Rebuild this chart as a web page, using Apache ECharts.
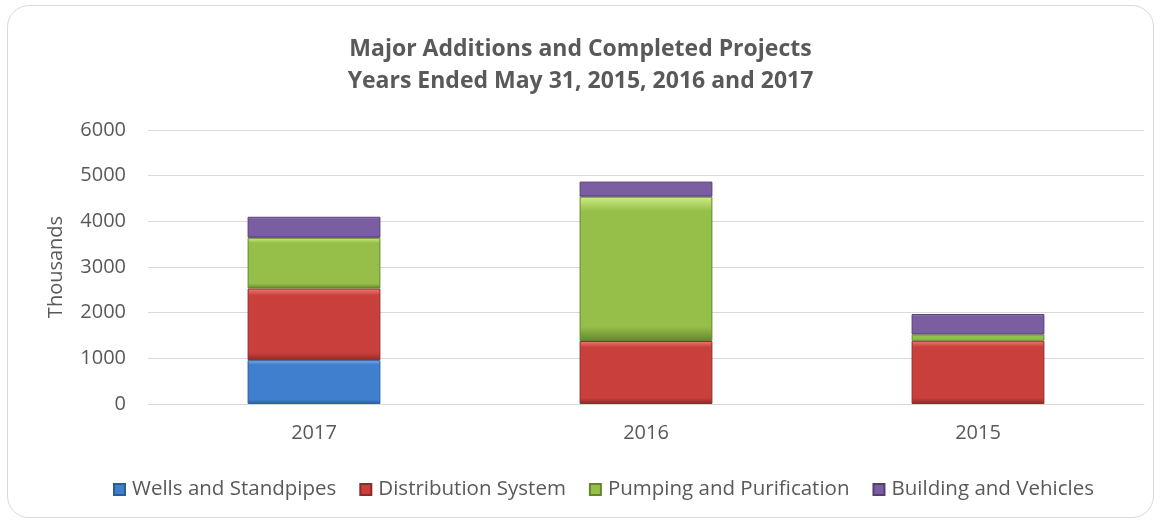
<!DOCTYPE html>
<html>
<head>
<meta charset="utf-8">
<script src="https://cdn.jsdelivr.net/npm/echarts@6/dist/echarts.min.js"></script>
<style>
  html, body { margin: 0; padding: 0; background: #fff; }
  #frame { position: absolute; left: 7px; top: 5px; width: 1145px; height: 511px;
           border: 1px solid #d9d9d9; border-radius: 22px; }
  #chart { width: 1161px; height: 522px; position: absolute; left: 0; top: 0; }
</style>
</head>
<body>
<div id="frame"></div>
<div id="chart"></div>
<script>
var years = ['2017', '2016', '2015']
var wells = [960, 0, 0]
var distribution = [1570, 1380, 1385]
var pumping = [1110, 3160, 140]
var building = [460, 330, 445]
var yTicks = [0, 1000, 2000, 3000, 4000, 5000, 6000]

// light top edge, flat face, dark bottom edge
function bevel(light, base, dark) {
    return {
        type: 'linear', x: 0, y: 0, x2: 0, y2: 1,
        colorStops: [
            { offset: 0, color: light },
            { offset: 0.1, color: base },
            { offset: 0.9, color: base },
            { offset: 1, color: dark }
        ]
    }
}

var myChart = echarts.init(document.getElementById('chart'));

function serie(name, data, light, base, dark) {
    return {
        name: name,
        type: 'bar',
        stack: 'total',
        barWidth: '40%',
        // empty segments are not drawn
        data: data.map(function (v) { return v === 0 ? '-' : v }),
        itemStyle: {
            color: bevel(light, base, dark),
            borderColor: dark,
            borderWidth: 1
        },
        emphasis: { disabled: true }
    }
}

var font = 'Open Sans'
var grey = '#595959'

var option = {
    animation: false,
    color: ['#3f7fce', '#c93f3c', '#96bf49', '#7b5ea2'],
    title: {
        text: 'Major Additions and Completed Projects\nYears Ended May 31, 2015, 2016 and 2017',
        left: 'center',
        top: 28,
        textStyle: {
            fontFamily: font,
            fontSize: 23,
            fontWeight: 'bold',
            color: grey,
            lineHeight: 32
        }
    },
    legend: {
        top: 474,
        left: 108,
        itemWidth: 11,
        itemHeight: 11,
        itemGap: 23,
        icon: 'rect',
        textStyle: { fontFamily: font, fontSize: 20.5, color: grey, padding: [0, 0, 0, 2] },
        data: ['Wells and Standpipes', 'Distribution System', 'Pumping and Purification', 'Building and Vehicles']
    },
    grid: { left: 148, right: 17, top: 130, bottom: 118 },
    xAxis: {
        type: 'category',
        data: years,
        axisTick: { show: false },
        axisLine: { lineStyle: { color: '#d9d9d9' } },
        axisLabel: { fontFamily: font, fontSize: 20, color: grey, margin: 19 }
    },
    yAxis: {
        type: 'value',
        min: yTicks[0],
        max: yTicks[yTicks.length - 1],
        interval: 1000,
        name: 'Thousands',
        nameLocation: 'middle',
        nameGap: 82,
        nameRotate: 90,
        nameTextStyle: { fontFamily: font, fontSize: 20, color: grey },
        axisLabel: {
            fontFamily: font, fontSize: 20, color: grey, margin: 22,
            formatter: function (v) { return String(v) }
        },
        splitLine: { lineStyle: { color: '#d9d9d9' } }
    },
    series: [
        serie('Wells and Standpipes', wells, '#80b6f2', '#3f7fce', '#2a5d9e'),
        serie('Distribution System', distribution, '#f07b75', '#c93f3c', '#8e2a28'),
        serie('Pumping and Purification', pumping, '#cdee85', '#96bf49', '#66852e'),
        serie('Building and Vehicles', building, '#bb9ddc', '#7b5ea2', '#553f72')
    ]
};

myChart.setOption(option);
</script>
</body>
</html>
